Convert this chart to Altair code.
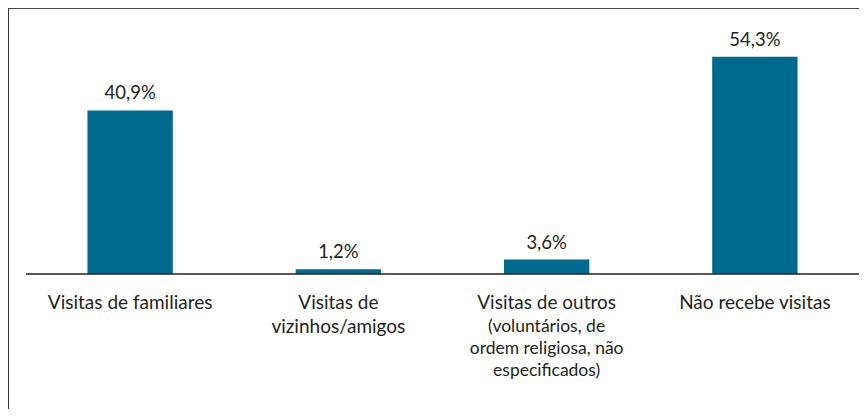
import altair as alt
import pandas as pd

categories = ["Visitas de familiares", "Visitas de vizinhos/amigos",
              "Visitas de outros", "Não recebe visitas"]
values = [40.9, 1.2, 3.6, 54.3]
main_lines = [["Visitas de familiares"], ["Visitas de", "vizinhos/amigos"],
              ["Visitas de outros"], ["Não recebe visitas"]]
sub_lines = [[""], [""], ["(voluntários, de", "ordem religiosa, não", "especificados)"], [""]]

labels = [f"{v:.1f}".replace(".", ",") + "%" for v in values]

df = pd.DataFrame({
    "cat": categories,
    "val": values,
    "label": labels,
    "main": main_lines,
    "sub": sub_lines,
})

FONT = "Lato"
TXT = "#231f20"
BAR = "#016b8f"

xenc = alt.X("cat:N", sort=categories, axis=None,
             scale=alt.Scale(paddingInner=0.59, paddingOuter=0.295))
yscale = alt.Scale(domain=[0, 60])

base = alt.Chart(df)

bars = base.mark_bar(color=BAR).encode(
    x=xenc,
    y=alt.Y("val:Q", scale=yscale, axis=None),
)

vals = base.mark_text(font=FONT, fontSize=18.5, color=TXT, baseline="alphabetic", dy=-11).encode(
    x=xenc,
    y=alt.Y("val:Q", scale=yscale),
    text="label:N",
)

main_txt = base.mark_text(font=FONT, fontSize=19, color=TXT, baseline="alphabetic",
                          lineHeight=24).encode(
    x=xenc,
    y=alt.value(275),
    text="main",
)

sub_txt = base.mark_text(font=FONT, fontSize=17.5, color=TXT, baseline="alphabetic",
                         lineHeight=22).encode(
    x=xenc,
    y=alt.value(298),
    text="sub",
)

baseline_rule = alt.Chart(pd.DataFrame({"z": [0]})).mark_rule(color="#222222", strokeWidth=1.5).encode(
    y=alt.Y("z:Q", scale=yscale),
)

top_border = alt.Chart(pd.DataFrame({"z": [0]})).mark_rule(color="#4a4a4a", strokeWidth=2).encode(
    x=alt.value(-18), x2=alt.value(840), y=alt.value(-26),
)
left_border = alt.Chart(pd.DataFrame({"z": [0]})).mark_rule(color="#333333", strokeWidth=2).encode(
    x=alt.value(-18), y=alt.value(-26), y2=alt.value(400),
)

chart = alt.layer(bars, baseline_rule, vals, main_txt, sub_txt, top_border, left_border).properties(
    width=833,
    height=240,
    padding={"left": 18, "top": 26, "right": 0, "bottom": 135},
    autosize="none",
).configure_view(stroke=None)

chart.save("out.html", embed_options={"renderer": "svg", "actions": False})
